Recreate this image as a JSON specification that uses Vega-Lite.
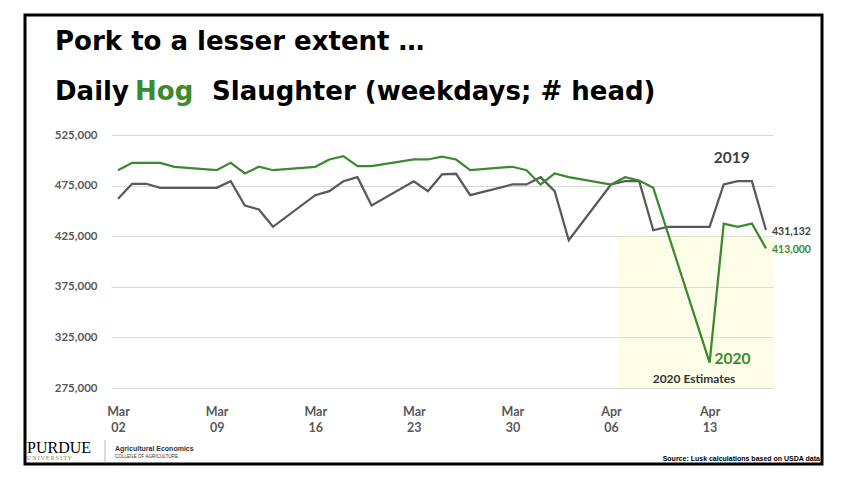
{
  "$schema": "https://vega.github.io/schema/vega-lite/v6.json",
  "autosize": "none",
  "width": 662,
  "height": 253,
  "padding": {"left": 111, "top": 135, "right": 75, "bottom": 94},
  "background": "white",
  "config": {"view": {"stroke": null}, "text": {"font": "Lato"}},
  "data": {
    "values": [
      {"date": "2020-03-02", "series": "2019", "head": 462000},
      {"date": "2020-03-03", "series": "2019", "head": 476800},
      {"date": "2020-03-04", "series": "2019", "head": 476800},
      {"date": "2020-03-05", "series": "2019", "head": 472800},
      {"date": "2020-03-06", "series": "2019", "head": 472800},
      {"date": "2020-03-09", "series": "2019", "head": 472800},
      {"date": "2020-03-10", "series": "2019", "head": 479300},
      {"date": "2020-03-11", "series": "2019", "head": 455300},
      {"date": "2020-03-12", "series": "2019", "head": 451400},
      {"date": "2020-03-13", "series": "2019", "head": 434300},
      {"date": "2020-03-16", "series": "2019", "head": 465500},
      {"date": "2020-03-17", "series": "2019", "head": 469500},
      {"date": "2020-03-18", "series": "2019", "head": 479300},
      {"date": "2020-03-19", "series": "2019", "head": 483300},
      {"date": "2020-03-20", "series": "2019", "head": 455300},
      {"date": "2020-03-23", "series": "2019", "head": 479300},
      {"date": "2020-03-24", "series": "2019", "head": 469500},
      {"date": "2020-03-25", "series": "2019", "head": 486000},
      {"date": "2020-03-26", "series": "2019", "head": 486700},
      {"date": "2020-03-27", "series": "2019", "head": 465500},
      {"date": "2020-03-30", "series": "2019", "head": 476100},
      {"date": "2020-03-31", "series": "2019", "head": 476100},
      {"date": "2020-04-01", "series": "2019", "head": 483300},
      {"date": "2020-04-02", "series": "2019", "head": 469500},
      {"date": "2020-04-03", "series": "2019", "head": 421000},
      {"date": "2020-04-06", "series": "2019", "head": 476100},
      {"date": "2020-04-07", "series": "2019", "head": 479300},
      {"date": "2020-04-08", "series": "2019", "head": 479300},
      {"date": "2020-04-09", "series": "2019", "head": 430900},
      {"date": "2020-04-10", "series": "2019", "head": 434300},
      {"date": "2020-04-13", "series": "2019", "head": 434300},
      {"date": "2020-04-14", "series": "2019", "head": 476100},
      {"date": "2020-04-15", "series": "2019", "head": 479300},
      {"date": "2020-04-16", "series": "2019", "head": 479300},
      {"date": "2020-04-17", "series": "2019", "head": 431132},
      {"date": "2020-03-02", "series": "2020", "head": 490200},
      {"date": "2020-03-03", "series": "2020", "head": 497500},
      {"date": "2020-03-04", "series": "2020", "head": 497500},
      {"date": "2020-03-05", "series": "2020", "head": 497500},
      {"date": "2020-03-06", "series": "2020", "head": 493600},
      {"date": "2020-03-09", "series": "2020", "head": 490200},
      {"date": "2020-03-10", "series": "2020", "head": 497500},
      {"date": "2020-03-11", "series": "2020", "head": 487000},
      {"date": "2020-03-12", "series": "2020", "head": 493600},
      {"date": "2020-03-13", "series": "2020", "head": 490200},
      {"date": "2020-03-16", "series": "2020", "head": 493600},
      {"date": "2020-03-17", "series": "2020", "head": 500800},
      {"date": "2020-03-18", "series": "2020", "head": 504100},
      {"date": "2020-03-19", "series": "2020", "head": 494200},
      {"date": "2020-03-20", "series": "2020", "head": 494200},
      {"date": "2020-03-23", "series": "2020", "head": 500800},
      {"date": "2020-03-24", "series": "2020", "head": 500800},
      {"date": "2020-03-25", "series": "2020", "head": 503500},
      {"date": "2020-03-26", "series": "2020", "head": 500800},
      {"date": "2020-03-27", "series": "2020", "head": 490200},
      {"date": "2020-03-30", "series": "2020", "head": 493600},
      {"date": "2020-03-31", "series": "2020", "head": 490200},
      {"date": "2020-04-01", "series": "2020", "head": 476100},
      {"date": "2020-04-02", "series": "2020", "head": 487000},
      {"date": "2020-04-03", "series": "2020", "head": 483300},
      {"date": "2020-04-06", "series": "2020", "head": 476100},
      {"date": "2020-04-07", "series": "2020", "head": 483300},
      {"date": "2020-04-08", "series": "2020", "head": 480000},
      {"date": "2020-04-09", "series": "2020", "head": 472800},
      {"date": "2020-04-13", "series": "2020", "head": 300000},
      {"date": "2020-04-14", "series": "2020", "head": 437500},
      {"date": "2020-04-15", "series": "2020", "head": 434300},
      {"date": "2020-04-16", "series": "2020", "head": 437500},
      {"date": "2020-04-17", "series": "2020", "head": 413000}
    ],
    "format": {"parse": {"date": "date:'%Y-%m-%d'"}}
  },
  "layer": [
    {
      "data": {"values": [{"k": 1}]},
      "mark": {"type": "rect", "fill": "#fbf79f", "opacity": 0.25},
      "encoding": {
        "x": {"datum": {"year": 2020, "month": 4, "date": 6, "hours": 12}, "type": "temporal"},
        "x2": {"datum": {"year": 2020, "month": 4, "date": 17, "hours": 12}},
        "y": {"datum": 275000, "type": "quantitative"},
        "y2": {"datum": 425700}
      }
    },
    {
      "transform": [{"filter": "datum.series === '2019'"}],
      "mark": {"type": "line", "color": "#595959", "strokeWidth": 2.25},
      "encoding": {
        "x": {
          "field": "date",
          "type": "temporal",
          "scale": {"domain": [{"year": 2020, "month": 3, "date": 1, "hours": 12}, {"year": 2020, "month": 4, "date": 17, "hours": 12}]},
          "axis": {
            "title": null,
            "values": [
              {"year": 2020, "month": 3, "date": 2},
              {"year": 2020, "month": 3, "date": 9},
              {"year": 2020, "month": 3, "date": 16},
              {"year": 2020, "month": 3, "date": 23},
              {"year": 2020, "month": 3, "date": 30},
              {"year": 2020, "month": 4, "date": 6},
              {"year": 2020, "month": 4, "date": 13}
            ],
            "labelExpr": "[timeFormat(datum.value, '%b'), timeFormat(datum.value, '%d')]",
            "labelFont": "Lato",
            "labelFontSize": 12.5,
            "labelFontWeight": "bold",
            "labelColor": "#595959",
            "labelLineHeight": 16.7,
            "labelPadding": 17,
            "ticks": false,
            "domain": false,
            "grid": false,
            "labelFlush": false,
            "labelOverlap": false
          }
        },
        "y": {
          "field": "head",
          "type": "quantitative",
          "scale": {"domain": [275000, 525000], "nice": false, "zero": false},
          "axis": {
            "title": null,
            "values": [275000, 325000, 375000, 425000, 475000, 525000],
            "format": ",d",
            "labelFont": "Lato",
            "labelFontSize": 11.5,
            "labelFontWeight": "bold",
            "labelColor": "#595959",
            "labelPadding": 14,
            "ticks": false,
            "domain": false,
            "grid": true,
            "gridColor": "#d9d9d9",
            "gridWidth": 1
          }
        }
      }
    },
    {
      "transform": [{"filter": "datum.series === '2020'"}],
      "mark": {"type": "line", "color": "#3b8a2f", "strokeWidth": 2.25},
      "encoding": {
        "x": {"field": "date", "type": "temporal"},
        "y": {"field": "head", "type": "quantitative"}
      }
    },
    {
      "data": {"values": [{"k": 1}]},
      "mark": {"type": "text", "text": "2019", "font": "Lato", "fontSize": 15.5, "fontWeight": "bold", "color": "#404040", "align": "center", "baseline": "alphabetic", "dx": 8},
      "encoding": {"x": {"datum": {"year": 2020, "month": 4, "date": 14}, "type": "temporal"}, "y": {"datum": 497000, "type": "quantitative"}}
    },
    {
      "data": {"values": [{"k": 1}]},
      "mark": {"type": "text", "text": "2020", "font": "Lato", "fontSize": 15.5, "fontWeight": "bold", "color": "#3b8a2f", "align": "left", "baseline": "alphabetic", "dx": 5},
      "encoding": {"x": {"datum": {"year": 2020, "month": 4, "date": 13}, "type": "temporal"}, "y": {"datum": 298700, "type": "quantitative"}}
    },
    {
      "data": {"values": [{"k": 1}]},
      "mark": {"type": "text", "text": "2020 Estimates", "font": "Lato", "fontSize": 12, "fontWeight": "bold", "color": "#333333", "align": "center", "baseline": "alphabetic", "dx": -1.5},
      "encoding": {"x": {"datum": {"year": 2020, "month": 4, "date": 12}, "type": "temporal"}, "y": {"datum": 279600, "type": "quantitative"}}
    },
    {
      "data": {"values": [{"k": 1}]},
      "mark": {"type": "text", "text": "431,132", "font": "Lato", "fontSize": 10.5, "fontWeight": "bold", "color": "#404040", "align": "left", "baseline": "alphabetic", "dx": 6},
      "encoding": {"x": {"datum": {"year": 2020, "month": 4, "date": 17}, "type": "temporal"}, "y": {"datum": 426200, "type": "quantitative"}}
    },
    {
      "data": {"values": [{"k": 1}]},
      "mark": {"type": "text", "text": "413,000", "font": "Lato", "fontSize": 10.5, "fontWeight": "bold", "color": "#3b8a2f", "align": "left", "baseline": "alphabetic", "dx": 6},
      "encoding": {"x": {"datum": {"year": 2020, "month": 4, "date": 17}, "type": "temporal"}, "y": {"datum": 408100, "type": "quantitative"}}
    },
    {
      "data": {"values": [{"k": 1}]},
      "mark": {"type": "text", "text": "Pork to a lesser extent …", "font": "DejaVu Sans", "fontSize": 26, "fontWeight": "bold", "color": "#000000", "align": "left", "baseline": "alphabetic", "dx": -63},
      "encoding": {"x": {"datum": {"year": 2020, "month": 3, "date": 2}, "type": "temporal"}, "y": {"datum": 609000, "type": "quantitative"}}
    },
    {
      "data": {"values": [{"k": 1}]},
      "mark": {"type": "text", "text": "Daily", "font": "DejaVu Sans", "fontSize": 26, "fontWeight": "bold", "color": "#000000", "align": "left", "baseline": "alphabetic", "dx": -63},
      "encoding": {"x": {"datum": {"year": 2020, "month": 3, "date": 2}, "type": "temporal"}, "y": {"datum": 560000, "type": "quantitative"}}
    },
    {
      "data": {"values": [{"k": 1}]},
      "mark": {"type": "text", "text": "Hog", "font": "DejaVu Sans", "fontSize": 26, "fontWeight": "bold", "color": "#3b8a2f", "align": "left", "baseline": "alphabetic", "dx": 17},
      "encoding": {"x": {"datum": {"year": 2020, "month": 3, "date": 2}, "type": "temporal"}, "y": {"datum": 560000, "type": "quantitative"}}
    },
    {
      "data": {"values": [{"k": 1}]},
      "mark": {"type": "text", "text": "Slaughter (weekdays; # head)", "font": "DejaVu Sans", "fontSize": 26, "fontWeight": "bold", "color": "#000000", "align": "left", "baseline": "alphabetic", "dx": 94},
      "encoding": {"x": {"datum": {"year": 2020, "month": 3, "date": 2}, "type": "temporal"}, "y": {"datum": 560000, "type": "quantitative"}}
    },
    {
      "data": {"values": [{"k": 1}]},
      "mark": {"type": "text", "text": "Source: Lusk calculations based on USDA data", "font": "Liberation Sans", "fontSize": 7, "fontWeight": "bold", "color": "#000000", "align": "right", "baseline": "alphabetic", "dx": 54},
      "encoding": {"x": {"datum": {"year": 2020, "month": 4, "date": 17}, "type": "temporal"}, "y": {"datum": 202900, "type": "quantitative"}}
    },
    {
      "data": {"values": [{"k": 1}]},
      "mark": {"type": "text", "text": "PURDUE", "font": "Liberation Serif", "fontSize": 16, "color": "#000000", "align": "left", "baseline": "alphabetic", "dx": -91},
      "encoding": {"x": {"datum": {"year": 2020, "month": 3, "date": 2}, "type": "temporal"}, "y": {"datum": 210800, "type": "quantitative"}}
    },
    {
      "data": {"values": [{"k": 1}]},
      "mark": {"type": "text", "text": "U  N  I  V  E  R  S  I  T  Y", "font": "Liberation Serif", "fontSize": 5.5, "color": "#8e7a4a", "align": "left", "baseline": "alphabetic", "dx": -91},
      "encoding": {"x": {"datum": {"year": 2020, "month": 3, "date": 2}, "type": "temporal"}, "y": {"datum": 203400, "type": "quantitative"}}
    },
    {
      "data": {"values": [{"k": 1}]},
      "mark": {"type": "rule", "color": "#bbbbbb", "strokeWidth": 1},
      "encoding": {
        "x": {"datum": {"year": 2020, "month": 3, "date": 1, "hours": 1, "minutes": 46}, "type": "temporal"},
        "y": {"datum": 223600, "type": "quantitative"},
        "y2": {"datum": 201900}
      }
    },
    {
      "data": {"values": [{"k": 1}]},
      "mark": {"type": "text", "text": "Agricultural Economics", "font": "Liberation Sans", "fontSize": 7, "fontWeight": 600, "color": "#333333", "align": "left", "baseline": "alphabetic", "dx": -3},
      "encoding": {"x": {"datum": {"year": 2020, "month": 3, "date": 2}, "type": "temporal"}, "y": {"datum": 212700, "type": "quantitative"}}
    },
    {
      "data": {"values": [{"k": 1}]},
      "mark": {"type": "text", "text": "COLLEGE OF AGRICULTURE", "font": "Liberation Sans", "fontSize": 4.6, "color": "#333333", "align": "left", "baseline": "alphabetic", "dx": -3},
      "encoding": {"x": {"datum": {"year": 2020, "month": 3, "date": 2}, "type": "temporal"}, "y": {"datum": 205800, "type": "quantitative"}}
    },
    {
      "data": {"values": [{"k": 1}]},
      "mark": {"type": "rect", "fill": null, "stroke": "#000000", "strokeWidth": 3},
      "encoding": {
        "x": {"datum": {"year": 2020, "month": 2, "date": 24, "hours": 9, "minutes": 27}, "type": "temporal"},
        "x2": {"datum": {"year": 2020, "month": 4, "date": 20, "hours": 23, "minutes": 30}},
        "y": {"datum": 643500, "type": "quantitative"},
        "y2": {"datum": 200000}
      }
    }
  ]
}
